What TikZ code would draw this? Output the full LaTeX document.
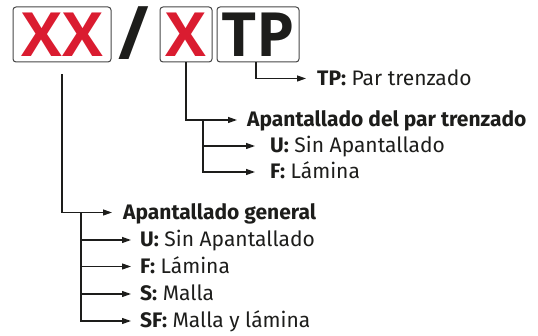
\documentclass[tikz,border=0pt]{standalone}
\usepackage{fontspec}
\setmainfont{Fira Sans}
\newfontfamily\cbcodefont{Open Sans}
\usetikzlibrary{arrows.meta,positioning}
\definecolor{cbred}{RGB}{218,28,48}
\definecolor{cbblack}{RGB}{29,29,27}
\definecolor{cbgray}{RGB}{70,70,70}
\newcommand{\cbkey}[1]{\textbf{#1:}}
\tikzset{
  cbbox/.style={draw=cbgray, line width=1pt, rounded corners=3pt, minimum height=55pt, inner sep=0pt, font=\cbcodefont\fontsize{61}{70}\selectfont\bfseries},
  cbslash/.style={inner sep=0pt, text=cbblack, font=\cbcodefont\fontsize{74}{84}\selectfont\bfseries},
  cbtxt/.style={inner sep=0pt, text=cbblack, font=\fontsize{21}{25}\selectfont},
  cbhead/.style={cbtxt, font=\fontsize{21}{25}\selectfont\bfseries},
  cbline/.style={line width=1.2pt, draw=cbblack},
  cbarr/.style={-{Triangle[length=9pt, width=6pt]}, line width=1.2pt, draw=cbblack}
}

\begin{document}
\begin{tikzpicture}[x=1pt, y=-1pt]
  \useasboundingbox (0,0) rectangle (538,336);
  % code boxes
  \node[cbbox, minimum width=98pt, text=cbred] (xx) at (62,34.5) {XX};
  \node[cbslash] (slash) at (133.5,33.5) {/};
  \node[cbbox, minimum width=52pt, text=cbred] (x) at (186,34.5) {X};
  \node[cbbox, minimum width=82pt, text=cbblack] (tp) at (258,34.5) {TP};
  % arrow ends and splits
  \coordinate (tpend) at (306,78.5);
  \coordinate (pairend) at (237,120);
  \coordinate (pairsplit) at (203,120);
  \coordinate (pu) at (255,146);
  \coordinate (pf) at (255,172);
  \coordinate (genend) at (112,212.5);
  \coordinate (gensplit) at (81,212.5);
  \coordinate (gu) at (131,240);
  \coordinate (gf) at (131,266.5);
  \coordinate (gs) at (131,294);
  \coordinate (gsf) at (131,321);
  % labels
  \node[cbtxt, base right=11pt of tpend, yshift=-7pt] (tplab) {\cbkey{TP} Par trenzado};
  \node[cbhead, base right=10pt of pairend, yshift=-7pt] (pairlab) {Apantallado del par trenzado};
  \node[cbtxt, base right=15pt of pu, yshift=-7pt] (pulab) {\cbkey{U} Sin Apantallado};
  \node[cbtxt, base right=15pt of pf, yshift=-7pt] (pflab) {\cbkey{F} Lámina};
  \node[cbhead, base right=11pt of genend, yshift=-7pt] (genlab) {Apantallado general};
  \node[cbtxt, base right=9pt of gu, yshift=-7pt] (gulab) {\cbkey{U} Sin Apantallado};
  \node[cbtxt, base right=9pt of gf, yshift=-7pt] (gflab) {\cbkey{F} Lámina};
  \node[cbtxt, base right=9pt of gs, yshift=-7pt] (gslab) {\cbkey{S} Malla};
  \node[cbtxt, base right=9pt of gsf, yshift=-7pt] (gsflab) {\cbkey{SF} Malla y lámina};
  % connectors
  \draw[cbarr] ([xshift=-2pt]tp.south) |- (tpend);
  \draw[cbarr] (x.south) |- (pairend);
  \draw[cbarr] (pairsplit) |- (pu);
  \draw[cbarr] (pairsplit) |- (pf);
  \draw[cbarr] ([yshift=-12pt]xx.south) |- (genend);
  \foreach \row in {gu,gf,gs,gsf}
    \draw[cbarr] (gensplit) |- (\row);
\end{tikzpicture}
\end{document}
